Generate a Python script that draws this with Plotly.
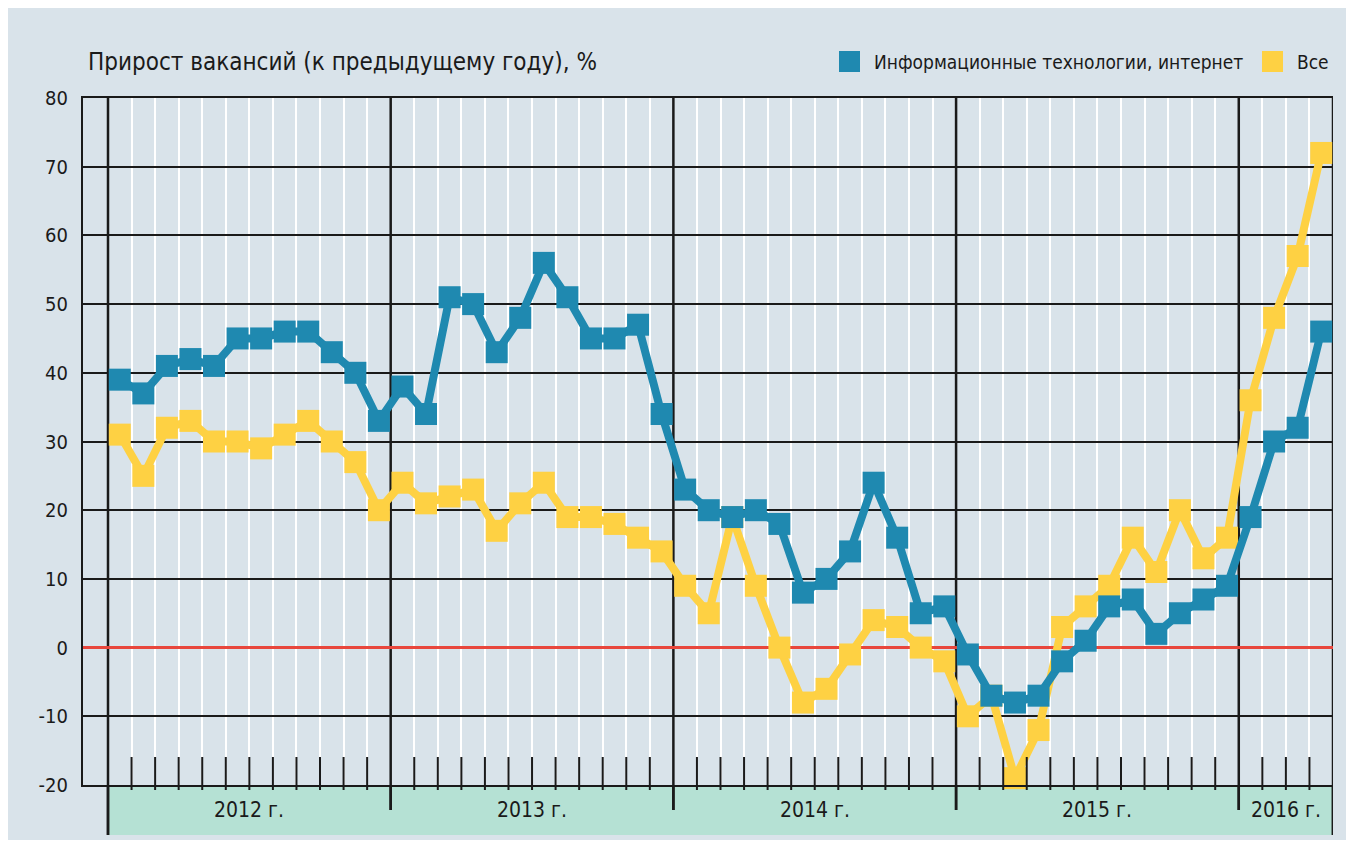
import plotly.graph_objects as go

# ---------------- data ----------------
years = ["2012 г.", "2013 г.", "2014 г.", "2015 г.", "2016 г."]
months_per_year = [12, 12, 12, 12, 4]

it_internet = [39, 37, 41, 42, 41, 45, 45, 46, 46, 43, 40, 33,
               38, 34, 51, 50, 43, 48, 56, 51, 45, 45, 47, 34,
               23, 20, 19, 20, 18, 8, 10, 14, 24, 16, 5, 6,
               -1, -7, -8, -7, -2, 1, 6, 7, 2, 5, 7, 9,
               19, 30, 32, 46]
all_vac = [31, 25, 32, 33, 30, 30, 29, 31, 33, 30, 27, 20,
           24, 21, 22, 23, 17, 21, 24, 19, 19, 18, 16, 14,
           9, 5, 19, 9, 0, -8, -6, -1, 4, 3, 0, -2,
           -10, -7, -19, -12, 3, 6, 9, 16, 11, 20, 13, 16,
           36, 48, 57, 72]

series_names = ["Информационные технологии, интернет", "Все"]
title_text = "Прирост вакансий (к предыдущему году), %"
y_ticks = [80, 70, 60, 50, 40, 30, 20, 10, 0, -10, -20]

# ---------------- style ----------------
BG = "#d9e3ea"
BLUE = "#1f89b0"
YELLOW = "#fed143"
BAND = "#b5e1d4"
RED = "#e8463c"
INK = "#1a1a1a"
FONT = "DejaVu Sans Condensed, Liberation Sans Narrow, Arial Narrow, sans-serif"

n = len(it_internet)
xs = [i + 0.5 for i in range(n)]
total = sum(months_per_year)

# year boundaries
bounds = [0]
for m in months_per_year:
    bounds.append(bounds[-1] + m)
year_set = set(bounds)
month_bounds = [k for k in range(1, total) if k not in year_set]

# pixel geometry (figure placed at 8,8 by the page body margin)
FIG_W, FIG_H = 1346, 832
L, R, T, B = 75, 21, 90, 55
plot_w = FIG_W - L - R
plot_h = FIG_H - T - B
x_left = -25 / ((plot_w - 25) / total)

def py(px):  # pixel offset below plot bottom -> paper y
    return -px / plot_h

fig = go.Figure()

fig.add_trace(go.Scatter(
    x=xs, y=all_vac, mode="lines+markers", name=series_names[1],
    line=dict(color=YELLOW, width=8),
    marker=dict(symbol="square", size=22, color=YELLOW),
    showlegend=False, cliponaxis=False))
fig.add_trace(go.Scatter(
    x=xs, y=it_internet, mode="lines+markers", name=series_names[0],
    line=dict(color=BLUE, width=8),
    marker=dict(symbol="square", size=22, color=BLUE),
    showlegend=False, cliponaxis=False))

shapes = []
# green band under the plot
shapes.append(dict(type="rect", xref="x", yref="paper", x0=0, x1=total,
                   y0=py(50), y1=0, fillcolor=BAND, line=dict(width=0), layer="below"))
# month ticks at the bottom
for k in month_bounds:
    shapes.append(dict(type="line", xref="x", yref="paper", x0=k, x1=k,
                       y0=py(5), y1=28 / plot_h,
                       line=dict(color=INK, width=2), layer="above"))
# year lines
for b in bounds:
    low = py(50) if b in (0, total) else py(25)
    shapes.append(dict(type="line", xref="x", yref="paper", x0=b, x1=b,
                       y0=low, y1=1, line=dict(color=INK, width=2.5), layer="between"))
    shapes.append(dict(type="line", xref="x", yref="paper", x0=b, x1=b,
                       y0=low, y1=0, line=dict(color=INK, width=2.5), layer="above"))

annotations = []
for yname, b0, m in zip(years, bounds[:-1], months_per_year):
    annotations.append(dict(x=b0 + m / 2, y=py(25), xref="x", yref="paper",
                            text=yname, showarrow=False, xanchor="center", yanchor="middle",
                            font=dict(family=FONT, size=21, color=INK)))

# title
annotations.append(dict(x=0.002, y=1 + 36 / plot_h, xref="paper", yref="paper",
                        text=title_text, showarrow=False, xanchor="left", yanchor="middle",
                        font=dict(family=FONT, size=24, color=INK)))

# legend (drawn as squares + labels)
leg = [(series_names[0], BLUE, 756), (series_names[1], YELLOW, 1179)]
for name, col, px0 in leg:
    x0 = px0 / plot_w
    shapes.append(dict(type="rect", xref="paper", yref="paper",
                       x0=x0, x1=x0 + 21 / plot_w,
                       y0=1 + 26 / plot_h, y1=1 + 47 / plot_h,
                       fillcolor=col, line=dict(width=0)))
    annotations.append(dict(x=x0 + 33 / plot_w, y=1 + 36 / plot_h, xref="paper", yref="paper",
                            text=name, showarrow=False, xanchor="left", yanchor="middle",
                            font=dict(family=FONT, size=19, color=INK)))

fig.update_layout(
    width=FIG_W, height=FIG_H,
    margin=dict(l=L, r=R, t=T, b=B),
    paper_bgcolor=BG, plot_bgcolor=BG,
    shapes=shapes, annotations=annotations,
    showlegend=False,
    xaxis=dict(range=[x_left, total], tickmode="array", tickvals=month_bounds,
               showticklabels=False, showgrid=True, gridcolor="white", gridwidth=1.5,
               zeroline=False, showline=True, mirror=True, linecolor=INK, linewidth=2,
               ticks="", fixedrange=True),
    yaxis=dict(range=[-20, 80], tickmode="array", tickvals=y_ticks,
               ticktext=[str(v) for v in y_ticks],
               showgrid=True, gridcolor=INK, gridwidth=2,
               zeroline=True, zerolinecolor=RED, zerolinewidth=3,
               showline=True, linecolor=INK, linewidth=2,
               ticks="", ticklabelstandoff=9,
               tickfont=dict(family=FONT, size=20, color=INK), fixedrange=True),
)

fig.write_html("out.html")
